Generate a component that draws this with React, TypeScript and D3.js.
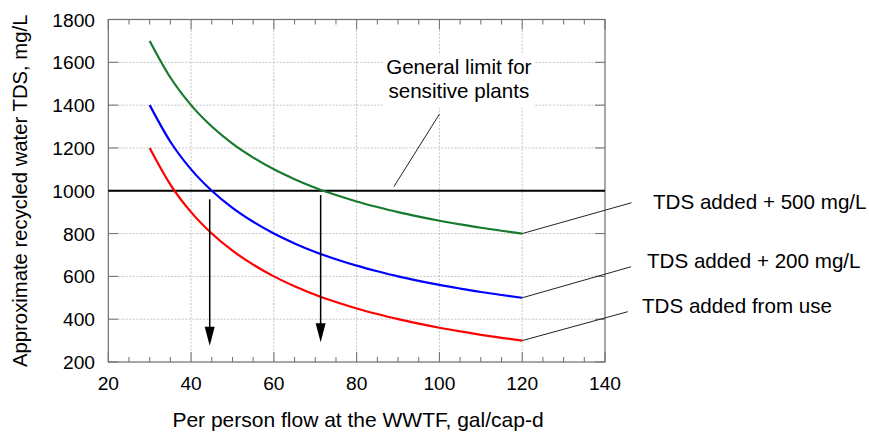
import React from "react";
import * as d3 from "d3";

// ---- data ----
const flows = [30, 35, 40, 45, 50, 55, 60, 65, 70, 75, 80, 85, 90, 95, 100, 105, 110, 115, 120];
const tdsFromUse = [1200, 1029, 900, 800, 720, 655, 600, 554, 514, 480, 450, 424, 400, 379, 360, 343, 327, 313, 300];
const tdsPlus200 = [1400, 1229, 1100, 1000, 920, 855, 800, 754, 714, 680, 650, 624, 600, 579, 560, 543, 527, 513, 500];
const tdsPlus500 = [1700, 1529, 1400, 1300, 1220, 1155, 1100, 1054, 1014, 980, 950, 924, 900, 879, 860, 843, 827, 813, 800];

const xTicks = [20, 40, 60, 80, 100, 120, 140];
const xMinorTicks = [25, 30, 35, 45, 50, 55, 65, 70, 75, 85, 90, 95, 105, 110, 115, 125, 130, 135];
const yTicks = [200, 400, 600, 800, 1000, 1200, 1400, 1600, 1800];

const limitValue = 1000;
// arrows: [x, fromY, toY]
const arrows: [number, number, number][] = [
  [44.5, 960, 276],
  [71.3, 980, 292],
];

const seriesNames = ["TDS added + 500 mg/L", "TDS added + 200 mg/L", "TDS added from use"];
// leader line ends for series labels: [x, y] in data units
const leaderEnds: [number, number][] = [
  [146.4, 944],
  [146.3, 645],
  [145.5, 435],
];
const limitLabel = ["General limit for", "sensitive plants"];
const limitLeader: [number, number, number, number] = [100, 1358, 89, 1019];

const xTitle = "Per person flow at the WWTF, gal/cap-d";
const yTitle = "Approximate recycled water TDS, mg/L";

const W = 869;
const H = 433;
const L = 108.3;
const R = 605;
const T = 19.5;
const B = 362;

export default function App() {
  const x = d3.scaleLinear().domain([20, 140]).range([L, R]);
  const y = d3.scaleLinear().domain([200, 1800]).range([B, T]);
  const line = d3
    .line<[number, number]>()
    .x((d) => x(d[0]))
    .y((d) => y(d[1]))
    .curve(d3.curveMonotoneX);

  const series = [
    { vals: tdsPlus500, color: "#177a2c" },
    { vals: tdsPlus200, color: "#0000ff" },
    { vals: tdsFromUse, color: "#ff0000" },
  ];

  const font = "'Liberation Sans', Arial, sans-serif";
  const axisColor = "#6e6e6e";
  const gridColor = "#c4c4c4";

  const labelPos = [
    { x: 653, y: 209 },
    { x: 647, y: 268 },
    { x: 642, y: 312.5 },
  ];

  return (
    <svg
      width={W}
      height={H}
      style={{ position: "absolute", left: 0, top: 0, background: "#fff" }}
      fontFamily={font}
    >
      <rect x={0} y={0} width={W} height={H} fill="#fff" />
      {/* grid */}
      {xTicks
        .filter((t) => t > 20 && t < 140)
        .map((t) => (
          <line
            key={"gx" + t}
            x1={x(t)}
            x2={x(t)}
            y1={T}
            y2={B}
            stroke={gridColor}
            strokeWidth={1}
            strokeDasharray="2,1.5"
          />
        ))}
      {yTicks
        .filter((t) => t > 200 && t < 1800)
        .map((t) => (
          <line
            key={"gy" + t}
            x1={L}
            x2={R}
            y1={y(t)}
            y2={y(t)}
            stroke={gridColor}
            strokeWidth={1}
            strokeDasharray="2,1.5"
          />
        ))}

      {/* white box behind limit label */}
      <rect x={383} y={55} width={151} height={53} fill="#fff" />

      {/* ticks */}
      {xTicks.map((t) => (
        <g key={"tx" + t}>
          <line x1={x(t)} x2={x(t)} y1={B} y2={B - 10} stroke={axisColor} />
          <line x1={x(t)} x2={x(t)} y1={T} y2={T + 10} stroke={axisColor} />
        </g>
      ))}
      {xMinorTicks.map((t) => (
        <g key={"mx" + t}>
          <line x1={x(t)} x2={x(t)} y1={B} y2={B - 5} stroke={axisColor} />
          <line x1={x(t)} x2={x(t)} y1={T} y2={T + 5} stroke={axisColor} />
        </g>
      ))}
      {yTicks.map((t) => (
        <g key={"ty" + t}>
          <line x1={L} x2={L + 10} y1={y(t)} y2={y(t)} stroke={axisColor} />
          <line x1={R} x2={R - 10} y1={y(t)} y2={y(t)} stroke={axisColor} />
        </g>
      ))}

      {/* frame */}
      <rect x={L} y={T} width={R - L} height={B - T} fill="none" stroke={axisColor} strokeWidth={1.2} />

      {/* limit line */}
      <line x1={L} x2={R} y1={y(limitValue)} y2={y(limitValue)} stroke="#000" strokeWidth={2} />

      {/* series */}
      {series.map((s, i) => (
        <path
          key={"s" + i}
          d={line(flows.map((f, j) => [f, s.vals[j]] as [number, number])) || ""}
          fill="none"
          stroke={s.color}
          strokeWidth={2.2}
        />
      ))}

      {/* arrows */}
      {arrows.map(([ax, y0, y1], i) => {
        const px = x(ax);
        const tip = y(y1);
        return (
          <g key={"a" + i}>
            <line x1={px} x2={px} y1={y(y0)} y2={tip - 10} stroke="#000" strokeWidth={1.5} />
            <path
              d={`M${px - 5},${tip - 19} L${px + 5},${tip - 19} L${px},${tip} Z`}
              fill="#000"
            />
          </g>
        );
      })}

      {/* leader lines */}
      {leaderEnds.map(([lx, ly], i) => {
        const endVal = series[i].vals[series[i].vals.length - 1];
        const endFlow = flows[flows.length - 1];
        return (
          <line
            key={"ll" + i}
            x1={x(endFlow)}
            y1={y(endVal)}
            x2={x(lx)}
            y2={y(ly)}
            stroke="#222"
            strokeWidth={1}
          />
        );
      })}
      <line
        x1={x(limitLeader[0])}
        y1={y(limitLeader[1])}
        x2={x(limitLeader[2])}
        y2={y(limitLeader[3])}
        stroke="#222"
        strokeWidth={1}
      />

      {/* series labels */}
      {seriesNames.map((n, i) => (
        <text key={"sn" + i} x={labelPos[i].x} y={labelPos[i].y} fontSize={20.6} fill="#000">
          {n}
        </text>
      ))}
      <text x={458.8} y={74} fontSize={20.6} textAnchor="middle" fill="#000">
        {limitLabel[0]}
      </text>
      <text x={458.8} y={98} fontSize={20.6} textAnchor="middle" fill="#000">
        {limitLabel[1]}
      </text>

      {/* tick labels */}
      {xTicks.map((t) => (
        <text key={"xl" + t} x={x(t)} y={390} fontSize={19.2} textAnchor="middle" fill="#000">
          {t}
        </text>
      ))}
      {yTicks.map((t) => (
        <text key={"yl" + t} x={95} y={y(t) + 7} fontSize={19.2} textAnchor="end" fill="#000">
          {t}
        </text>
      ))}

      {/* axis titles */}
      <text x={358} y={427} fontSize={21} textAnchor="middle" fill="#000">
        {xTitle}
      </text>
      <text
        transform={`translate(27,${(T + B) / 2}) rotate(-90)`}
        fontSize={20.3}
        textAnchor="middle"
        fill="#000"
      >
        {yTitle}
      </text>
    </svg>
  );
}
